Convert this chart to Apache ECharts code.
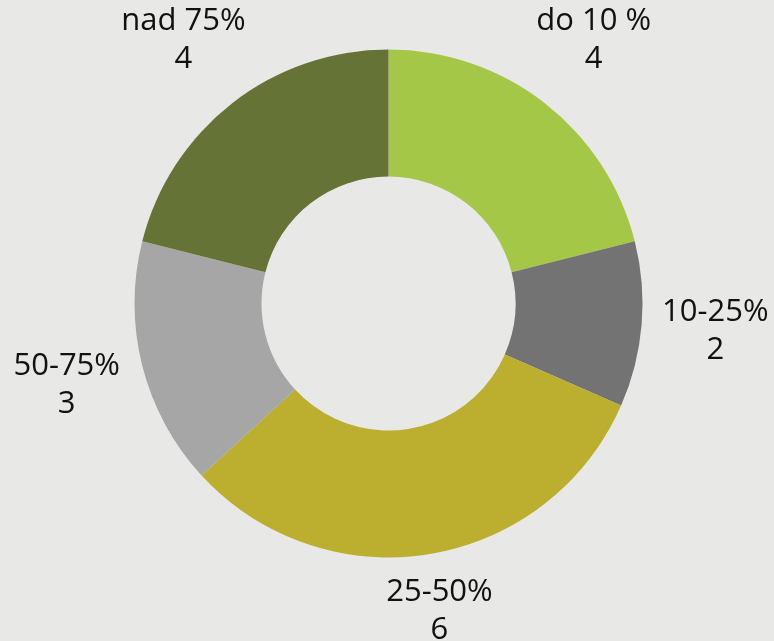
<!DOCTYPE html>
<html>
<head>
<meta charset="utf-8">
<script src="https://cdn.jsdelivr.net/npm/echarts@6/dist/echarts.min.js"></script>
<style>
html, body { margin: 0; padding: 0; background: #e8e8e6; }
#chart { width: 774px; height: 641px; }
</style>
</head>
<body>
<div id="chart"></div>
<script>
const categories = ['do 10 %', '10-25%', '25-50%', '50-75%', 'nad 75%']
const values = [4, 2, 6, 3, 4]
const colors = ['#a5c748', '#737373', '#bcae2e', '#a6a6a6', '#657436']

// small nudges so each label sits where the original puts it
const labelOffsets = [[0, 0], [-6, 0], [-4, -22], [2, 0], [0, 0]]

const center = [388.5, 303.5]
const myChart = echarts.init(document.getElementById('chart'))
const option = {
  backgroundColor: '#e8e8e6',
  series: [
    {
      // the donut itself
      type: 'pie',
      center: center,
      radius: [127, 254],
      startAngle: 90,
      clockwise: true,
      silent: true,
      data: categories.map((name, i) => ({
        name: name,
        value: values[i],
        itemStyle: { color: colors[i] }
      })),
      label: { show: false },
      labelLine: { show: false }
    },
    {
      // transparent ring that only carries the labels
      type: 'pie',
      center: center,
      radius: [300, 362],
      startAngle: 90,
      clockwise: true,
      silent: true,
      itemStyle: { color: 'rgba(0,0,0,0)' },
      data: categories.map((name, i) => ({
        name: name,
        value: values[i],
        label: { offset: labelOffsets[i] }
      })),
      label: {
        position: 'inside',
        formatter: '{b}\n{c}',
        fontFamily: 'Open Sans',
        fontSize: 31,
        lineHeight: 38,
        color: '#111'
      },
      labelLine: { show: false }
    }
  ]
}
myChart.setOption(option)
window.addEventListener('resize', function () {
  myChart.resize()
})
</script>
</body>
</html>
